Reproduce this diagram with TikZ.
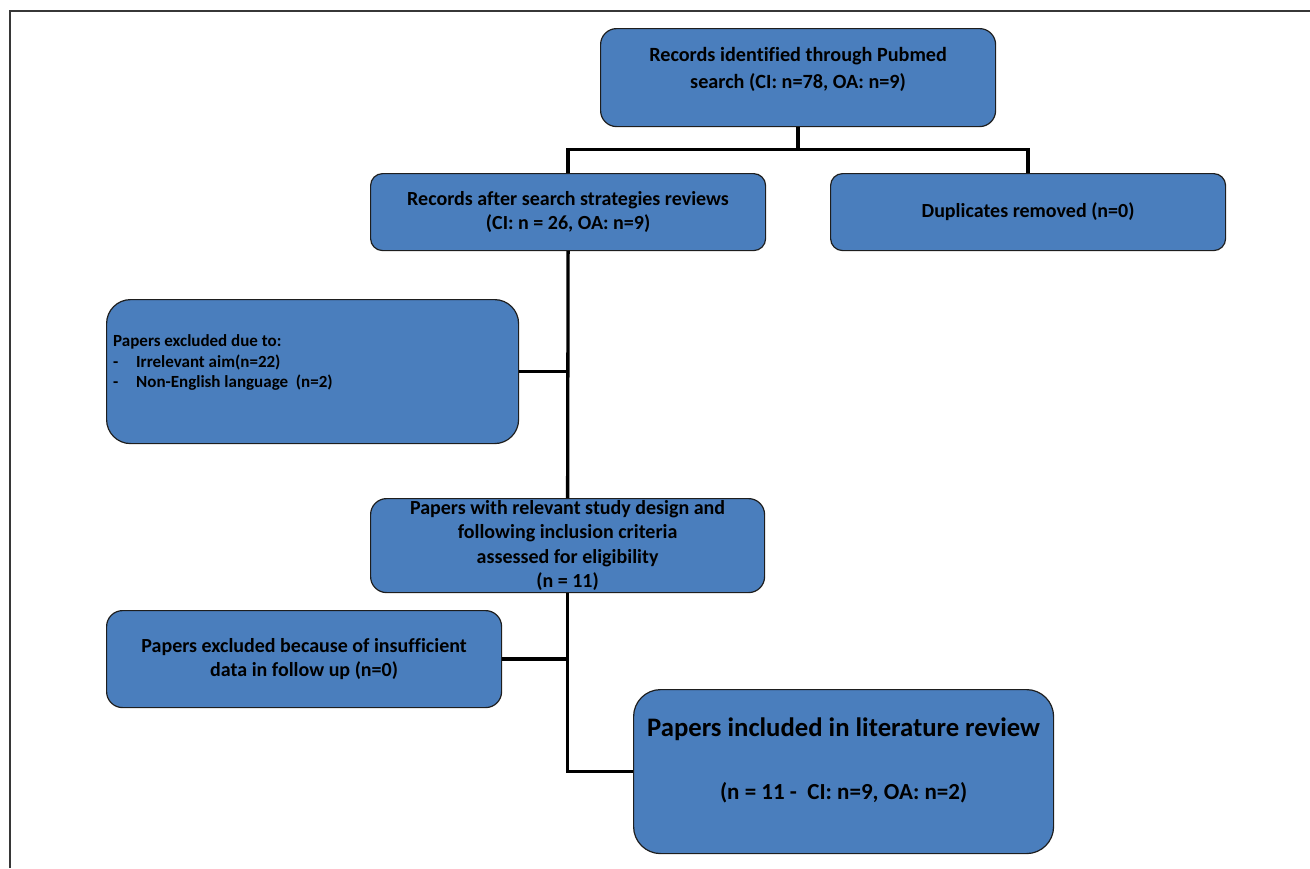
\documentclass[tikz,border=0pt]{standalone}
\usepackage{fontspec}
\setmainfont{Carlito}[Ligatures=NoCommon]
\usetikzlibrary{calc}
\definecolor{boxblue}{RGB}{74,126,189}
\definecolor{framegray}{RGB}{55,55,55}
\definecolor{boxedge}{RGB}{30,30,30}
\begin{document}
\begin{tikzpicture}[x=1pt,y=-1pt,
  box/.style={draw=boxedge, line width=1.2pt, fill=boxblue, rounded corners=#1,
    inner sep=0pt, anchor=north west, align=center, font=\bfseries\fontsize{20}{24.5}\selectfont},
  txt/.style 2 args={inner sep=0pt, align=center, font=\bfseries\fontsize{#1}{#2}\selectfont},
  conn/.style={line width=3.3pt, black},
  frame/.style={draw=framegray, line width=2.2pt}]
\useasboundingbox (0,0) rectangle (1310,868);
\draw[frame] (10,868) -- (10,11) -- (1310,11);

% boxes
\node[box=16, minimum width=395, minimum height=98] (A) at (600,28) {};
\node[txt={20.2}{27}] (At) at ($(A.north)+(0,41)$) {Records identified through Pubmed\\search (CI: n=78, OA: n=9)};

\node[box=12, minimum width=395, minimum height=77] (B) at (370,173)
  {Records after search strategies reviews\\(CI: n = 26, OA: n=9)};
\node[box=12, minimum width=395, minimum height=77] (C) at (830,173)
  {Duplicates removed (n=0)};

\node[box=24, minimum width=412, minimum height=144] (D) at (106,299) {};
\node[txt={17}{20.5}, align=left, anchor=west] (Dt) at ($(D.west)+(7,-9)$)
  {Papers excluded due to:\\
   \makebox[23pt][l]{-}Irrelevant aim(n=22)\\
   \makebox[23pt][l]{-}Non-English language\ \ (n=2)};

\node[box=16, minimum width=394, minimum height=94] (E) at (370,498)
  {Papers with relevant study design and\\following inclusion criteria\\assessed for eligibility\\(n = 11)};

\node[box=16, minimum width=395, minimum height=97] (F) at (106,610)
  {Papers excluded because of insufficient\\data in follow up (n=0)};

\node[box=27, minimum width=420, minimum height=164] (G) at (633,689) {};
\node[txt={26.7}{33}] (Gt1) at ($(G.north)+(0,40)$) {Papers included in literature review};
\node[txt={23}{28}] (Gt2) at ($(G.north)+(0,104)$) {(n = 11 -\ \ CI: n=9, OA: n=2)};

% connectors
\coordinate (j1) at ($(A.south)+(0,22)$);
\draw[conn] (A.south) -- (j1);
\draw[conn] (B.north) -- (B.north |- j1) -- (C.north |- j1) -- (C.north);
\draw[conn] (B.south) -- (E.north);
\draw[conn] (D.east) -- (D.east -| B.south);
\draw[conn] (E.south) |- (G.west);
\draw[conn] (F.east) -- (F.east -| E.south);
\end{tikzpicture}
\end{document}
